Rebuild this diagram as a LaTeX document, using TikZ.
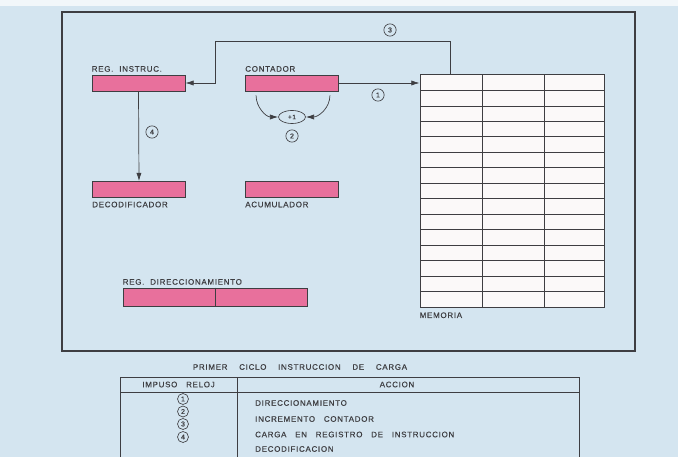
\documentclass[tikz,border=0pt]{standalone}
\usepackage{fontspec}
\setmainfont{Liberation Sans}
\newfontfamily\lettering[LetterSpace=9,FakeBold=0.4]{Liberation Sans}
\usepackage{tikz}
\usetikzlibrary{shapes.geometric,arrows.meta,positioning,calc}
\usepackage{xcolor}
\definecolor{paperblue}{RGB}{212,229,240}
\definecolor{regpink}{RGB}{232,112,156}
\definecolor{inkgray}{RGB}{62,62,66}
\definecolor{memwhite}{RGB}{251,249,249}

\tikzset{
    reg/.style={draw=inkgray, fill=regpink, line width=0.75pt, inner sep=0pt,
        minimum width=2.79cm, minimum height=0.48cm},
    lbl/.style={font=\lettering\fontsize{6.8}{7}\selectfont, text=inkgray, inner sep=0pt},
    num/.style={circle, draw=inkgray, line width=0.55pt, inner sep=0pt,
        minimum size=0.37cm, font=\lettering\fontsize{6}{6}\selectfont, text=inkgray},
    arr/.style={draw=inkgray, line width=0.6pt, -{Latex[length=7pt,width=4.4pt]}},
    tabline/.style={draw=inkgray, line width=0.85pt}
}

\begin{document}
\begin{tikzpicture}[x=0.03cm, y=-0.03cm]
    % --- paper and frame ---
    \useasboundingbox (0,0) rectangle (678,457);
    \fill[paperblue] (0,0) rectangle (678,457);
    \fill[white!70!paperblue] (0,0) rectangle (678,6);
    \draw[inkgray, line width=1.1pt] (62,12) rectangle (635,351);

    % --- registers ---
    \node[reg] (reginst) at (138.5,83) {};
    \node[reg] (cont) at (292,83) {};
    \node[reg] (deco) at (139,189.5) {};
    \node[reg] (acum) at (292,189.5) {};
    \node[reg, minimum width=5.52cm, minimum height=0.54cm] (regdir) at (215,297) {};
    \draw[inkgray, line width=0.75pt] (regdir.north) -- (regdir.south);

    \node[lbl, anchor=south west] at ([yshift=2.2pt]reginst.north west) {REG.\ \ INSTRUC.};
    \node[lbl, anchor=south west] at ([yshift=2.2pt]cont.north west) {CONTADOR};
    \node[lbl, anchor=north west] at ([yshift=-3pt]deco.south west) {DECODIFICADOR};
    \node[lbl, anchor=north west] at ([yshift=-3pt]acum.south west) {ACUMULADOR};
    \node[lbl, anchor=south west] at ([yshift=2.2pt]regdir.north west) {REG.\ \ DIRECCIONAMIENTO};

    % --- memoria ---
    \node[draw=inkgray, fill=memwhite, line width=0.85pt, inner sep=0pt,
        minimum width=5.52cm, minimum height=6.96cm] (mem) at (512,191) {};
    \foreach \r in {1,...,14}{
        \draw[inkgray, line width=0.65pt] (420,{75+\r*15.467}) -- (604,{75+\r*15.467});
    }
    \draw[inkgray, line width=0.65pt] (482,75) -- (482,307);
    \draw[inkgray, line width=0.65pt] (544,75) -- (544,307);
    \node[lbl, anchor=north west] at ([yshift=-4pt]mem.south west) {MEMORIA};

    % --- connectors ---
    \coordinate (bend) at (215,41);
    \draw[arr] (cont.east) -- (cont.east -| mem.west);
    \node[num] at (378,95) {1};

    \node[ellipse, draw=inkgray, line width=0.55pt, inner sep=0pt, minimum width=0.81cm,
        minimum height=0.39cm, font=\lettering\fontsize{5.5}{6}\selectfont, text=inkgray] (plus) at (292,117) {+1};
    \draw[arr] ([shift={(11,4)}]cont.south west) to[out=-90, in=180] (plus.west);
    \draw[arr] ([shift={(-9,4)}]cont.south east) to[out=-90, in=0] (plus.east);
    \node[num] at (292,136) {2};

    \draw[arr] ([xshift=0.93cm]mem.north west) |- (bend) |- (reginst.east);
    \node[num] at (390,30) {3};

    \draw[arr] (reginst.south) -- (deco.north);
    \node[num] at (152,132) {4};

    % --- tabla ---
    \node[lbl] at (300,367) {PRIMER\ \ \ \ CICLO\ \ \ \ INSTRUCCION\ \ \ \ DE\ \ \ \ CARGA};
    \draw[tabline] (120,457) |- (579,377) -- (579,457);
    \draw[tabline] (120,392) -- (579,392);
    \draw[tabline] (237,377) -- (237,457);
    \node[lbl] at (178.5,384.5) {IMPUSO\ \ \ RELOJ};
    \node[lbl] at (397,384.5) {ACCION};
    \foreach \n/\yy/\ty/\txt in {1/399/403/DIRECCIONAMIENTO,
        2/411.5/419/INCREMENTO\ \ \ CONTADOR,
        3/424/434.5/CARGA\ \ \ EN\ \ \ REGISTRO\ \ \ DE\ \ \ INSTRUCCION,
        4/437/449/DECODIFICACION}{
        \node[num, minimum size=0.33cm] at (183,\yy) {\n};
        \node[lbl, anchor=west] at (255,\ty) {\txt};
    }
\end{tikzpicture}
\end{document}
